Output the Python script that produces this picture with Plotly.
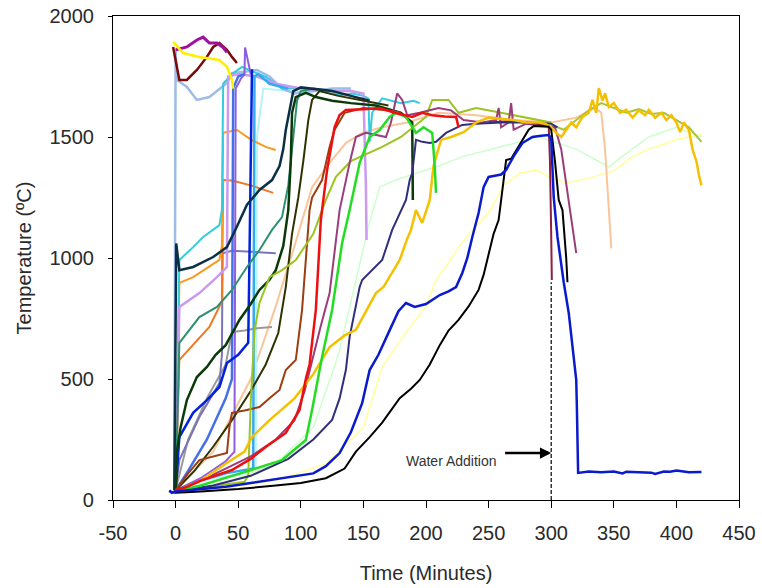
import plotly.graph_objects as go

# ---------------- data (time in minutes, temperature in degC) ----------------
t_pale_yellow = [0, 40, 80, 120, 150, 165, 185, 200, 208, 218, 226, 238, 250, 262, 275, 288, 300, 312, 330, 350, 365, 378, 390, 400, 410, 420]
T_pale_yellow = [35, 50, 80, 150, 300, 550, 700, 800, 909, 980, 1045, 1120, 1186, 1300, 1350, 1364, 1330, 1310, 1330, 1360, 1420, 1450, 1470, 1490, 1500, 1510]

t_pale_green = [0, 40, 80, 110, 130, 147, 155, 163, 175, 192, 210, 230, 260, 290, 320, 346, 356, 378, 400, 420]
T_pale_green = [35, 70, 150, 300, 600, 979, 1150, 1293, 1320, 1350, 1380, 1420, 1460, 1500, 1450, 1376, 1417, 1500, 1540, 1500]

t_peach = [0, 30, 60, 80, 95, 109, 123, 136, 149, 165, 185, 210, 240, 270, 300, 320, 335, 340, 343, 346, 348]
T_peach = [40, 200, 500, 800, 1050, 1293, 1393, 1475, 1517, 1540, 1560, 1600, 1590, 1570, 1560, 1580, 1620, 1600, 1450, 1200, 1040]

t_pale_cyan = [0, 30, 55, 64, 65, 70, 90, 110]
T_pale_cyan = [40, 90, 110, 140, 1500, 1700, 1690, 1680]

t_steel = [-1, 0, 1, 9, 17, 27, 41, 45, 55, 65, 75, 85, 95, 110, 125, 140]
T_steel = [40, 1860, 1736, 1707, 1653, 1665, 1723, 1764, 1770, 1777, 1750, 1700, 1680, 1690, 1700, 1700]

t_maroon = [-2, 3, 9, 17, 25, 30, 35, 41, 45, 49]
T_maroon = [1872, 1736, 1736, 1777, 1831, 1872, 1888, 1860, 1831, 1806]

t_magenta = [0, 9, 17, 22, 27, 33, 38, 41]
T_magenta = [1860, 1872, 1901, 1913, 1888, 1888, 1870, 1850]

t_yellow = [-2, 6, 19, 35, 41, 45, 46]
T_yellow = [1893, 1847, 1831, 1818, 1790, 1736, 1700]

t_grey = [0, 10, 25, 40, 45, 55, 65, 77]
T_grey = [40, 250, 420, 560, 694, 700, 710, 715]

t_greypurple = [0, 3, 19, 35, 37, 37.5, 45, 60, 80]
T_greypurple = [40, 165, 343, 483, 600, 1020, 1030, 1025, 1020]

t_orange = [0, 3, 27, 35, 37, 38, 45, 60, 78]
T_orange = [40, 579, 715, 798, 820, 1322, 1320, 1300, 1269]

t_orange2 = [0, 3, 14, 27, 35, 37, 38, 49, 60, 72, 80]
T_orange2 = [40, 897, 921, 963, 992, 1050, 1517, 1529, 1490, 1459, 1446]

t_cyan = [0, 3, 14, 22, 35, 37, 38, 45, 53, 62, 72, 85, 100, 115, 131, 141, 150, 154, 155, 157, 165, 180, 190, 195]
T_cyan = [40, 992, 1045, 1087, 1136, 1200, 1720, 1760, 1790, 1770, 1748, 1700, 1700, 1690, 1673, 1680, 1670, 1660, 1480, 1600, 1660, 1640, 1650, 1640]

t_lavender = [0, 3, 19, 33, 41, 42, 50, 65, 80, 100, 120, 140, 150, 152, 152.5]
T_lavender = [40, 798, 855, 921, 963, 1750, 1760, 1750, 1720, 1700, 1690, 1690, 1680, 1300, 1074]

t_violet = [0, 20, 40, 47, 48, 52, 55, 55.5, 60]
T_violet = [40, 90, 160, 200, 1700, 1740, 1760, 1870, 1760]

t_royal = [0, 10, 25, 40, 45, 46, 50, 55]
T_royal = [40, 120, 250, 420, 500, 1700, 1750, 1760]

t_blue_riser = [0, 3, 14, 25, 35, 41, 50, 58, 59, 60, 61]
T_blue_riser = [40, 260, 360, 413, 467, 566, 600, 650, 1000, 1500, 1780]

t_sky = [0, 20, 40, 55, 62, 63, 66, 75, 90]
T_sky = [40, 80, 110, 124, 130, 1750, 1760, 1720, 1700]

t_teal = [0, 3, 19, 33, 45, 57, 67, 77, 85, 90, 94, 97, 100, 110, 125]
T_teal = [40, 649, 756, 798, 868, 963, 1033, 1116, 1169, 1300, 1500, 1650, 1690, 1700, 1690]

t_darkslate = [-1, 0, 0.5, 3, 14, 30, 41, 49, 57, 67, 77, 83, 86, 88, 91, 94, 100, 110, 125, 140, 155]
T_darkslate = [40, 600, 1060, 950, 963, 1004, 1045, 1130, 1220, 1281, 1322, 1380, 1450, 1529, 1612, 1690, 1705, 1700, 1690, 1670, 1650]

t_darkgreen = [0, 1, 4, 9, 17, 25, 32, 40, 51, 60, 67, 75, 80, 86, 90, 92, 93, 96, 104, 112, 125, 140, 160, 180, 189, 189.5]
T_darkgreen = [35, 200, 300, 413, 508, 550, 600, 640, 744, 810, 868, 910, 950, 1050, 1198, 1400, 1600, 1665, 1682, 1665, 1650, 1640, 1630, 1600, 1560, 1240]

t_darkolive = [0, 15, 30, 45, 60, 72, 82, 88, 93, 98, 102, 106, 109, 115, 130, 150, 170]
T_darkolive = [40, 120, 220, 330, 450, 560, 690, 880, 1100, 1250, 1400, 1570, 1653, 1690, 1670, 1650, 1630]

t_brown = [0, 10, 19, 30, 41, 43, 45, 55, 67, 75, 83, 88, 92, 96, 101, 107, 109, 117, 123, 127, 135, 150, 170, 180]
T_brown = [40, 110, 165, 180, 194, 302, 360, 370, 384, 420, 455, 537, 560, 579, 785, 1198, 1250, 1322, 1459, 1530, 1600, 1620, 1610, 1600]

t_yellowgreen = [0, 20, 40, 55, 58, 60, 63, 67, 75, 85, 96, 110, 120, 128, 140, 155, 165, 180, 200, 205, 218, 226, 240, 260, 280, 300]
T_yellowgreen = [35, 50, 65, 75, 100, 400, 700, 814, 921, 950, 992, 1100, 1240, 1335, 1400, 1434, 1459, 1500, 1583, 1653, 1653, 1600, 1620, 1600, 1580, 1560]

t_olive_right = [300, 310, 320, 330, 340, 350, 360, 370, 380, 390, 400, 410, 420]
T_olive_right = [1550, 1530, 1570, 1610, 1640, 1620, 1600, 1615, 1595, 1600, 1570, 1540, 1480]

t_purple = [0, 20, 40, 60, 80, 95, 103, 109, 116, 123, 131, 139, 144, 152, 160, 168, 172, 177, 181, 185, 195, 210, 220, 230, 245, 256, 258, 260, 266, 268, 270, 280, 295, 303, 308, 312, 316, 320]
T_purple = [40, 80, 130, 180, 250, 330, 450, 579, 720, 855, 1198, 1393, 1500, 1517, 1510, 1500, 1560, 1680, 1653, 1590, 1600, 1620, 1610, 1570, 1560, 1570, 1620, 1540, 1560, 1640, 1530, 1555, 1545, 1540, 1450, 1300, 1150, 1020]

t_crimson = [250, 265, 280, 290, 298, 299, 300, 300.5]
T_crimson = [1560, 1565, 1560, 1555, 1545, 1400, 1100, 909]

t_navy = [0, 30, 60, 90, 110, 125, 131, 136, 139, 147, 149, 163, 165, 173, 179, 184, 187, 189, 192, 197, 203, 208, 216, 229, 240, 260, 280, 300, 305]
T_navy = [35, 60, 100, 170, 250, 331, 420, 537, 674, 880, 909, 979, 992, 1116, 1186, 1240, 1322, 1351, 1488, 1480, 1475, 1480, 1517, 1550, 1555, 1560, 1560, 1555, 1540]

t_gold = [0, 20, 40, 55, 61, 75, 95, 110, 123, 135, 144, 152, 160, 166, 172, 179, 185, 188, 192, 197, 203, 206, 212, 220, 230, 240, 250, 260, 270, 280, 290, 295, 300, 304, 308, 312, 316, 320, 325, 330, 333, 336, 338, 341, 343, 346, 350, 355, 360, 365, 370, 375, 378, 383, 388, 392, 396, 400, 403, 406, 410, 413, 416, 418, 420]
T_gold = [35, 80, 150, 200, 260, 330, 420, 520, 632, 680, 703, 780, 855, 880, 930, 992, 1080, 1116, 1198, 1145, 1240, 1380, 1488, 1500, 1520, 1560, 1580, 1575, 1570, 1560, 1560, 1555, 1540, 1517, 1500, 1529, 1560, 1540, 1583, 1600, 1653, 1600, 1702, 1650, 1680, 1624, 1640, 1600, 1612, 1580, 1610, 1590, 1612, 1580, 1600, 1570, 1590, 1560, 1520, 1560, 1529, 1446, 1400, 1343, 1300]

t_green = [0, 20, 53, 85, 104, 109, 115, 117, 125, 133, 139, 147, 155, 163, 171, 176, 184, 192, 198, 205, 207, 208]
T_green = [35, 60, 112, 165, 248, 372, 537, 591, 785, 1062, 1198, 1393, 1500, 1529, 1583, 1600, 1583, 1517, 1540, 1517, 1376, 1269]

t_red = [0, 9, 20, 45, 60, 72, 88, 99, 104, 107, 112, 116, 121, 127, 131, 136, 150, 163, 175, 189, 197, 205, 215, 224, 226]
T_red = [40, 54, 80, 124, 170, 219, 277, 372, 500, 560, 785, 1157, 1364, 1541, 1591, 1612, 1615, 1620, 1600, 1583, 1600, 1590, 1585, 1583, 1541]

t_black = [-5, 0, 20, 50, 80, 100, 120, 135, 144, 155, 165, 179, 188, 195, 203, 211, 218, 226, 234, 242, 246, 250, 254, 258, 260, 262, 264, 268, 275, 282, 286, 292, 298, 300, 303, 306, 309, 312, 313]
T_black = [35, 30, 35, 45, 60, 70, 90, 130, 200, 260, 320, 421, 460, 496, 560, 640, 700, 744, 800, 868, 930, 1012, 1100, 1157, 1250, 1322, 1405, 1410, 1470, 1530, 1545, 1545, 1542, 1530, 1400, 1240, 1198, 1000, 900]

t_blue = [-5, -3, 0, 20, 40, 60, 80, 100, 110, 120, 131, 140, 149, 155, 162, 171, 178, 184, 191, 200, 211, 218, 224, 229, 233, 237, 242, 246, 250, 255, 260, 264, 270, 277, 285, 292, 298, 300, 302, 305, 310, 314, 318, 320, 320.5, 321.5, 330, 340, 350, 357, 360, 370, 380, 383, 390, 395, 400, 410, 420]
T_blue = [40, 30, 35, 45, 55, 70, 85, 100, 110, 140, 194, 280, 400, 537, 600, 702, 780, 814, 798, 810, 847, 862, 880, 938, 1000, 1087, 1186, 1293, 1335, 1340, 1345, 1364, 1420, 1475, 1500, 1505, 1508, 1495, 1252, 1087, 900, 773, 600, 496, 385, 112, 118, 115, 118, 110, 117, 116, 113, 108, 118, 117, 122, 115, 116]

water_time = [300, 300]
water_marker = [0, 900]

x_ticks = [-50, 0, 50, 100, 150, 200, 250, 300, 350, 400, 450]
y_ticks = [0, 500, 1000, 1500, 2000]

# ---------------- styles ----------------
series = [
    (t_pale_yellow, T_pale_yellow, "#FFFF99", 1.5),
    (t_pale_green, T_pale_green, "#CCFFCC", 1.5),
    (t_peach, T_peach, "#FBC59B", 2),
    (t_pale_cyan, T_pale_cyan, "#B8F4F4", 2),
    (t_steel, T_steel, "#9DBCE6", 2.5),
    (t_grey, T_grey, "#9A9A9A", 2),
    (t_greypurple, T_greypurple, "#7A74B8", 2),
    (t_orange, T_orange, "#F07820", 2),
    (t_orange2, T_orange2, "#F99A1E", 2),
    (t_cyan, T_cyan, "#33CCDD", 2),
    (t_lavender, T_lavender, "#C99AF0", 2.5),
    (t_violet, T_violet, "#8E5DE0", 2),
    (t_royal, T_royal, "#4470E8", 2.5),
    (t_sky, T_sky, "#33AAF0", 2.5),
    (t_blue_riser, T_blue_riser, "#0022DD", 2.5),
    (t_teal, T_teal, "#2E9070", 2),
    (t_darkslate, T_darkslate, "#0B2F45", 2.5),
    (t_darkolive, T_darkolive, "#2F3300", 2),
    (t_darkgreen, T_darkgreen, "#0A3A0A", 2.5),
    (t_brown, T_brown, "#9C3D12", 2),
    (t_yellowgreen, T_yellowgreen, "#9CC41E", 2),
    (t_olive_right, T_olive_right, "#A8C33A", 2),
    (t_maroon, T_maroon, "#7A0A0A", 2.5),
    (t_magenta, T_magenta, "#A010A0", 3),
    (t_yellow, T_yellow, "#FFF000", 2.5),
    (t_purple, T_purple, "#9A3D7A", 2),
    (t_crimson, T_crimson, "#8E2040", 2),
    (t_navy, T_navy, "#30307A", 2),
    (t_gold, T_gold, "#F5C000", 2.5),
    (t_green, T_green, "#22DD22", 2.5),
    (t_red, T_red, "#EE1010", 2.5),
    (t_black, T_black, "#000000", 2),
    (t_blue, T_blue, "#0A1ACC", 2.5),
]

fig = go.Figure()
for tx, ty, col, w in series:
    fig.add_trace(go.Scatter(x=tx, y=ty, mode="lines",
                             line=dict(color=col, width=w),
                             showlegend=False, hoverinfo="skip"))

fig.add_trace(go.Scatter(x=water_time, y=water_marker, mode="lines",
                         line=dict(color="#000000", width=1.2, dash="4px,2px"),
                         showlegend=False, hoverinfo="skip"))

fig.add_annotation(x=300, y=194, ax=262, ay=194, xref="x", yref="y",
                   axref="x", ayref="y", text="", showarrow=True,
                   arrowhead=2, arrowsize=0.9, arrowwidth=2.5, arrowcolor="#000000",
                   standoff=0)
fig.add_annotation(x=258, y=160, xref="x", yref="y", xanchor="right",
                   yanchor="middle", text="Water Addition", showarrow=False,
                   font=dict(family="Arial, Liberation Sans, sans-serif", size=14, color="#333333"))

font_main = dict(family="Arial, Liberation Sans, sans-serif", size=20, color="#2a2a2a")

fig.update_layout(
    width=762, height=588,
    margin=dict(l=113, r=23, t=16, b=88),
    paper_bgcolor="white", plot_bgcolor="white",
    font=font_main,
    xaxis=dict(range=[-50, 450], tickvals=x_ticks, ticktext=[str(v) for v in x_ticks],
               showgrid=False, zeroline=False, showline=True, linecolor="#000000",
               linewidth=1.2, mirror=True, ticks="outside", ticklen=7, tickcolor="#000000",
               tickfont=font_main, ticklabelstandoff=8, automargin=False,
               title=dict(text="Time (Minutes)", font=font_main, standoff=22)),
    yaxis=dict(range=[0, 2000], tickvals=y_ticks, ticktext=[str(v) for v in y_ticks],
               showgrid=False, zeroline=False, showline=True, linecolor="#000000",
               linewidth=1.2, mirror=True, ticks="outside", ticklen=4, tickcolor="#000000",
               tickfont=font_main, ticklabelstandoff=10, automargin=False,
               title=dict(text="Temperature (ºC)", font=font_main, standoff=12)),
)

fig.write_html("out.html")
